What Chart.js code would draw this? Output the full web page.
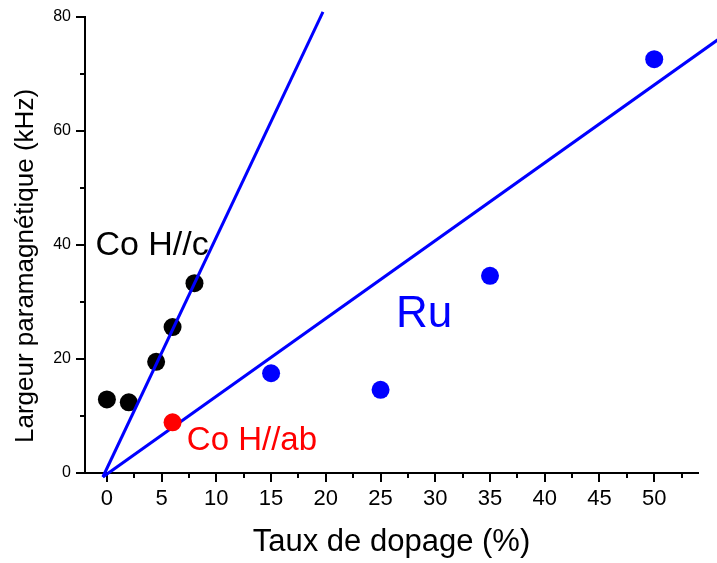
<!DOCTYPE html>
<html>
<head>
<meta charset="utf-8">
<script src="https://cdn.jsdelivr.net/npm/chart.js@4.4.0/dist/chart.umd.min.js"></script>
<style>
html, body { margin: 0; padding: 0; background: #fff; }
#wrap { width: 717px; height: 563px; }
</style>
</head>
<body>
<div id="wrap"><canvas id="chart" width="717" height="563"></canvas></div>
<script>
// measured points
const coC_x = [0, 2, 4.5, 6, 8];
const coC_y = [12.9, 12.4, 19.5, 25.6, 33.3];
const coAb_x = [6];
const coAb_y = [8.9];
const ru_x = [15, 25, 35, 50];
const ru_y = [17.5, 14.6, 34.6, 72.6];

// fitted lines (end points)
const fitCo_x = [-0.37, 19.74];
const fitCo_y = [-0.7, 80.9];
const fitRu_x = [-0.37, 55.8];
const fitRu_y = [-0.7, 76.0];

// axes
const xTicks = [0, 5, 10, 15, 20, 25, 30, 35, 40, 45, 50];
const xMinor = [2.5, 7.5, 12.5, 17.5, 22.5, 27.5, 32.5, 37.5, 42.5, 47.5, 52.5];
const yTicks = [0, 20, 40, 60, 80];
const yMinor = [10, 30, 50, 70];

const FONT = "'Liberation Sans', Arial, sans-serif";

function pts(xs, ys) { return xs.map((x, i) => ({ x: x, y: ys[i] })); }

// minor ticks, text labels and y title
const extras = {
    id: 'extras',
    afterDatasetsDraw(chart) {
        const ctx = chart.ctx;
        const xs = chart.scales.x, ys = chart.scales.y;
        const area = chart.chartArea;
        ctx.save();
        ctx.strokeStyle = '#000';
        ctx.lineWidth = 2;
        ctx.beginPath();
        xMinor.forEach(v => {
            const px = Math.round(xs.getPixelForValue(v));
            ctx.moveTo(px, area.bottom);
            ctx.lineTo(px, area.bottom + 5);
        });
        yMinor.forEach(v => {
            const py = Math.round(ys.getPixelForValue(v));
            ctx.moveTo(area.left, py);
            ctx.lineTo(area.left - 5, py);
        });
        ctx.stroke();

        const notes = [
            { text: 'Co H//c', x: -1.05, y: 38.2, color: '#000000', size: 34 },
            { text: 'Co H//ab', x: 7.3, y: 4.0, color: '#ff0000', size: 33 },
            { text: 'Ru', x: 26.4, y: 25.6, color: '#0000ff', size: 44 }
        ];
        ctx.textAlign = 'left';
        ctx.textBaseline = 'alphabetic';
        notes.forEach(n => {
            ctx.fillStyle = n.color;
            ctx.font = n.size + 'px ' + FONT;
            ctx.fillText(n.text, xs.getPixelForValue(n.x), ys.getPixelForValue(n.y));
        });

        // y axis title
        ctx.translate(33, 266);
        ctx.rotate(-Math.PI / 2);
        ctx.textAlign = 'center';
        ctx.fillStyle = '#000';
        ctx.font = '26px ' + FONT;
        ctx.fillText('Largeur paramagnétique (kHz)', 0, 0);
        ctx.restore();
    }
};

const pointStyle = color => ({
    type: 'scatter',
    pointRadius: 9,
    pointHoverRadius: 9,
    pointBorderWidth: 0,
    pointBackgroundColor: color,
    showLine: false
});

const lineStyle = {
    type: 'line',
    borderColor: '#0000ff',
    borderWidth: 3,
    pointRadius: 0,
    fill: false,
    showLine: true,
    clip: false
};

new Chart(document.getElementById('chart'), {
    type: 'scatter',
    data: {
        datasets: [
            Object.assign({ label: 'Co H//ab', data: pts(coAb_x, coAb_y) }, pointStyle('#ff0000')),
            Object.assign({ label: 'fit Co', data: pts(fitCo_x, fitCo_y) }, lineStyle),
            Object.assign({ label: 'fit Ru', data: pts(fitRu_x, fitRu_y) }, lineStyle),
            Object.assign({ label: 'Co H//c', data: pts(coC_x, coC_y) }, pointStyle('#000000')),
            Object.assign({ label: 'Ru', data: pts(ru_x, ru_y) }, pointStyle('#0000ff'))
        ]
    },
    options: {
        responsive: false,
        animation: false,
        events: [],
        layout: { padding: { top: 17, right: 19, left: 0, bottom: 0 } },
        plugins: {
            legend: { display: false },
            tooltip: { enabled: false }
        },
        scales: {
            x: {
                type: 'linear',
                min: -2,
                max: 54,
                afterBuildTicks: s => { s.ticks = xTicks.map(v => ({ value: v })); },
                afterFit: s => { s.height = 90; },
                border: { color: '#000', width: 2 },
                grid: { drawOnChartArea: false, tickLength: 9, tickColor: '#000', lineWidth: 2 },
                ticks: { color: '#000', padding: 4, maxRotation: 0, font: { family: FONT, size: 22 } },
                title: {
                    display: true,
                    text: 'Taux de dopage (%)',
                    color: '#000',
                    font: { family: FONT, size: 31 },
                    padding: { top: 0, bottom: 2 }
                }
            },
            y: {
                type: 'linear',
                min: 0,
                max: 80,
                afterBuildTicks: s => { s.ticks = yTicks.map(v => ({ value: v })); },
                afterFit: s => { s.width = 85; },
                border: { color: '#000', width: 2 },
                grid: { drawOnChartArea: false, tickLength: 9, tickColor: '#000', lineWidth: 2 },
                ticks: { color: '#000', padding: 5, font: { family: FONT, size: 16 } }
            }
        }
    },
    plugins: [extras]
});
</script>
</body>
</html>
